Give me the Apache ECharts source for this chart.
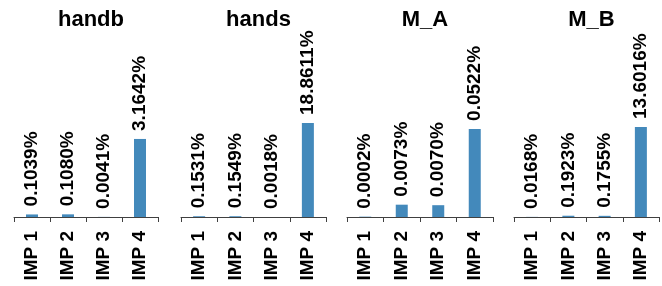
<!DOCTYPE html>
<html>
<head>
<meta charset="utf-8">
<script src="https://cdn.jsdelivr.net/npm/echarts@6/dist/echarts.min.js"></script>
<style>
  html, body { margin: 0; padding: 0; background: #fff; }
  #chart { width: 662px; height: 286px; }
</style>
</head>
<body>
<div id="chart"></div>
<script>
// categories and values (percent)
const categories = ["IMP 1", "IMP 2", "IMP 3", "IMP 4"];
const panelNames = ["handb", "hands", "M_A", "M_B"];
const handb = [0.1039, 0.1080, 0.0041, 3.1642];
const hands = [0.1531, 0.1549, 0.0018, 18.8611];
const mA = [0.0002, 0.0073, 0.0070, 0.0522];
const mB = [0.0168, 0.1923, 0.1755, 13.6016];
const panelData = [handb, hands, mA, mB];

// layout of each small panel
const lefts = [14, 181, 347, 514];
const widths = [144, 145, 146, 145];
const axisMax = [4.46, 22.07, 0.0652, 16.62];
const barColor = "#4389bb";
const fontFamily = "'Liberation Sans', Arial, sans-serif";

const chart = echarts.init(document.getElementById("chart"));

const grids = [], xAxes = [], yAxes = [], series = [], titles = [];
panelData.forEach((vals, i) => {
  grids.push({ left: lefts[i], width: widths[i], top: 107, height: 110 });
  titles.push({
    text: panelNames[i],
    left: lefts[i] + widths[i] / 2,
    top: 4,
    textAlign: "center",
    textStyle: { fontFamily, fontSize: 22, fontWeight: "bold", color: "#000" },
  });
  xAxes.push({
    type: "category",
    gridIndex: i,
    data: categories,
    axisLine: { lineStyle: { color: "#404040", width: 1 } },
    axisTick: { show: true, length: 5, lineStyle: { color: "#404040" } },
    axisLabel: {
      rotate: 90,
      margin: 14,
      fontFamily,
      fontSize: 19,
      fontWeight: "bold",
      color: "#000",
    },
  });
  yAxes.push({
    type: "value",
    gridIndex: i,
    min: 0,
    max: axisMax[i],
    show: false,
    splitLine: { show: false },
  });
  series.push({
    type: "bar",
    xAxisIndex: i,
    yAxisIndex: i,
    data: vals,
    barWidth: 12,
    itemStyle: { color: barColor },
    label: {
      show: true,
      position: "top",
      rotate: 90,
      align: "left",
      verticalAlign: "middle",
      distance: 8,
      fontFamily,
      fontSize: 19,
      fontWeight: "bold",
      color: "#000",
      formatter: (p) => p.value.toFixed(4) + "%",
    },
  });
});

chart.setOption({
  animation: false,
  title: titles,
  grid: grids,
  xAxis: xAxes,
  yAxis: yAxes,
  series: series,
});
</script>
</body>
</html>
